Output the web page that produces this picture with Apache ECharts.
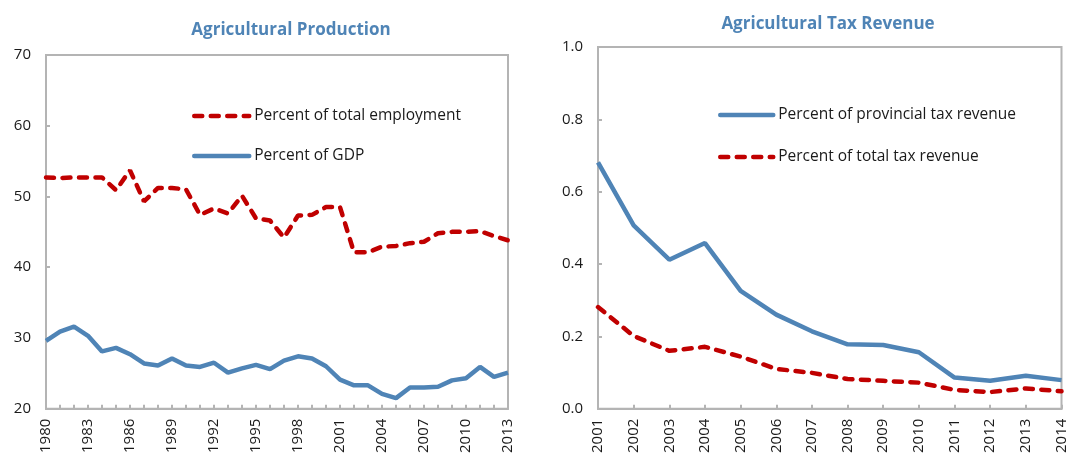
<!DOCTYPE html>
<html>
<head>
<meta charset="utf-8">
<script src="https://cdn.jsdelivr.net/npm/echarts@6/dist/echarts.min.js"></script>
<style>
  html, body { margin: 0; padding: 0; background: #fff; }
  #chart { width: 1069px; height: 456px; }
</style>
</head>
<body>
<div id="chart"></div>
<script>
// left panel: agricultural production (percent)
var prodYears = [];
for (var y = 1980; y <= 2013; y++) prodYears.push(String(y));
var employmentShare = [52.7, 52.6, 52.7, 52.7, 52.7, 50.9, 53.7, 49.3, 51.2, 51.2,
  51.0, 47.4, 48.3, 47.6, 50.1, 46.9, 46.6, 44.2, 47.3, 47.4,
  48.5, 48.5, 42.1, 42.1, 42.9, 43.0, 43.4, 43.6, 44.8, 45.0,
  45.0, 45.1, 44.4, 43.8];
var gdpShare = [29.6, 30.9, 31.6, 30.3, 28.1, 28.6, 27.7, 26.4, 26.1, 27.1,
  26.1, 25.9, 26.5, 25.1, 25.7, 26.2, 25.6, 26.8, 27.4, 27.1,
  26.0, 24.1, 23.3, 23.3, 22.1, 21.5, 23.0, 23.0, 23.1, 24.0,
  24.3, 25.9, 24.5, 25.1];

// right panel: agricultural tax revenue (percent)
var taxYears = ['2001', '2002', '2003', '2004', '2005', '2006', '2007',
  '2008', '2009', '2010', '2011', '2012', '2013', '2014'];
var provincialTax = [0.681, 0.507, 0.412, 0.458, 0.326, 0.260, 0.214,
  0.178, 0.176, 0.156, 0.086, 0.077, 0.091, 0.079];
var totalTax = [0.281, 0.201, 0.160, 0.171, 0.144, 0.110, 0.099,
  0.082, 0.077, 0.072, 0.052, 0.046, 0.056, 0.048];

var BLUE = '#4f84b6';
var RED = '#c00000';
var FONT = '"Open Sans", "Noto Sans", sans-serif';
var AXISGRAY = '#b4b4b4';
var TEXT = '#1a1a1a';

var chart = echarts.init(document.getElementById('chart'));

function xAxisCfg(idx, data, labelInterval) {
  return {
    type: 'category',
    gridIndex: idx,
    data: data,
    boundaryGap: false,
    axisLine: { lineStyle: { color: AXISGRAY, width: 2 } },
    axisTick: { show: true, inside: true, interval: 0, length: 4, lineStyle: { color: AXISGRAY, width: 2 } },
    axisLabel: { interval: labelInterval, rotate: 90, fontSize: 15, color: TEXT, fontFamily: FONT, margin: 10 }
  };
}

function yAxisCfg(idx, min, max, interval, fmt) {
  return {
    type: 'value',
    gridIndex: idx,
    min: min,
    max: max,
    interval: interval,
    axisLine: { show: true, lineStyle: { color: AXISGRAY, width: 2 } },
    axisTick: { show: true, inside: true, length: 4, lineStyle: { color: AXISGRAY, width: 2 } },
    splitLine: { show: false },
    axisLabel: { fontSize: 15, color: TEXT, fontFamily: FONT, margin: 15, formatter: fmt }
  };
}

var legendText = { fontSize: 15.5, color: TEXT, fontFamily: FONT };
var legendLine = { width: 4.5, cap: 'round' };

var option = {
  backgroundColor: '#ffffff',
  animation: false,
  title: [
    { text: 'Agricultural Production', left: 286, top: 17, textAlign: 'center',
      textStyle: { fontSize: 17, fontWeight: 'bold', color: BLUE, fontFamily: FONT } },
    { text: 'Agricultural Tax Revenue', left: 823, top: 11, textAlign: 'center',
      textStyle: { fontSize: 17, fontWeight: 'bold', color: BLUE, fontFamily: FONT } }
  ],
  legend: [
    { data: ['Percent of total employment', 'Percent of GDP'], orient: 'vertical',
      left: 187, top: 103, itemWidth: 55, itemHeight: 18, itemGap: 24, selectedMode: false,
      itemStyle: { opacity: 0 }, lineStyle: legendLine, textStyle: legendText },
    { data: ['Percent of provincial tax revenue', 'Percent of total tax revenue'], orient: 'vertical',
      left: 713, top: 102, itemWidth: 53, itemHeight: 18, itemGap: 26, selectedMode: false,
      itemStyle: { opacity: 0 }, lineStyle: legendLine, textStyle: legendText }
  ],
  grid: [
    { left: 46, top: 55, width: 462, height: 355, show: true, borderColor: AXISGRAY, borderWidth: 2 },
    { left: 598, top: 47, width: 465, height: 363, show: true, borderColor: AXISGRAY, borderWidth: 2 }
  ],
  xAxis: [xAxisCfg(0, prodYears, 2), xAxisCfg(1, taxYears, 0)],
  yAxis: [
    yAxisCfg(0, 20, 70, 10),
    yAxisCfg(1, 0, 1, 0.2, function (v) { return v.toFixed(1); })
  ],
  series: [
    { name: 'Percent of total employment', type: 'line', xAxisIndex: 0, yAxisIndex: 0,
      data: employmentShare, symbol: 'none', color: RED,
      lineStyle: { color: RED, width: 4.5, type: [8, 8.5], cap: 'round' } },
    { name: 'Percent of GDP', type: 'line', xAxisIndex: 0, yAxisIndex: 0,
      data: gdpShare, symbol: 'none', color: BLUE,
      lineStyle: { color: BLUE, width: 4.5 } },
    { name: 'Percent of provincial tax revenue', type: 'line', xAxisIndex: 1, yAxisIndex: 1,
      data: provincialTax, symbol: 'none', color: BLUE,
      lineStyle: { color: BLUE, width: 4.5 } },
    { name: 'Percent of total tax revenue', type: 'line', xAxisIndex: 1, yAxisIndex: 1,
      data: totalTax, symbol: 'none', color: RED,
      lineStyle: { color: RED, width: 4.5, type: [8, 8.5], cap: 'round' } }
  ]
};

chart.setOption(option);
</script>
</body>
</html>
